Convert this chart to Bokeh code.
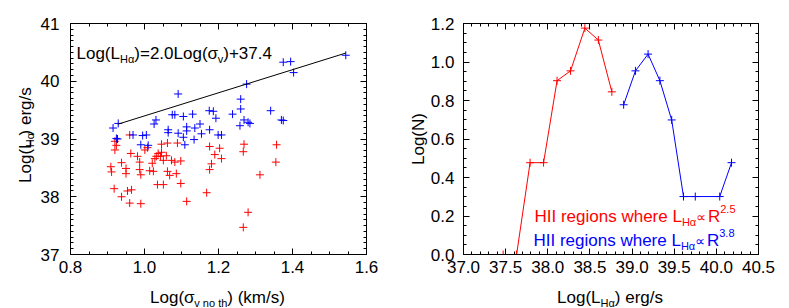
import math
import numpy as np
from bokeh.plotting import figure
from bokeh.layouts import row, column
from bokeh.models import (Range1d, FixedTicker, LinearAxis, Label,
                          NumeralTickFormatter, CustomJSTickFormatter)
from bokeh.core.properties import value
from bokeh.embed import file_html
from bokeh.resources import INLINE

FONT = "Liberation Sans"
SYM_FONT = "DejaVu Sans"
RED = "#ff0000"
BLUE = "#0000ff"

# ---------------- left panel data ----------------
blue_sigma = [1.375, 1.395, 1.403, 1.544, 1.276, 1.091, 1.260, 1.260, 1.341, 1.075,
              1.082, 1.105, 1.130, 1.175, 1.186, 1.193, 1.238, 1.269, 1.280, 1.258,
              1.370, 1.375, 1.031, 1.026, 0.929, 0.915, 1.150, 1.114, 1.136, 1.176,
              1.064, 1.114, 1.285, 0.924, 0.927, 0.969, 0.995, 1.005, 1.064, 1.091,
              1.105, 1.154, 1.199, 1.208, 0.990, 1.010, 1.109, 1.134]
blue_lha = [40.33, 40.34, 40.15, 40.45, 39.95, 39.78, 39.69, 39.52, 39.49, 39.42,
            39.42, 39.39, 39.43, 39.49, 39.48, 39.36, 39.43, 39.33, 39.29, 39.23,
            39.33, 39.32, 39.33, 39.26, 39.27, 39.19, 39.26, 39.21, 39.19, 39.16,
            39.16, 39.14, 39.27, 39.01, 39.00, 39.07, 39.06, 39.07, 39.11, 39.10,
            39.03, 39.09, 39.07, 39.07, 38.90, 38.89, 38.90, 38.99]

red_sigma = [0.920, 0.960, 0.924, 0.920, 0.963, 0.981, 0.987, 1.001, 1.008, 1.046,
             1.062, 1.089, 1.037, 1.046, 1.032, 1.043, 1.059, 1.028, 1.021, 1.051,
             1.073, 1.082, 1.098, 0.909, 0.911, 0.938, 0.950, 0.950, 0.987, 0.990,
             1.014, 1.024, 1.062, 1.068, 1.086, 1.176, 1.203, 1.190, 1.208, 1.181,
             1.176, 1.269, 1.267, 1.357, 1.355, 1.312, 1.035, 1.051, 1.098, 0.918,
             0.954, 0.965, 0.938, 0.960, 0.990, 1.114, 1.168, 1.280, 1.267]
red_lha = [38.96, 39.07, 38.89, 38.81, 38.75, 38.70, 38.60, 38.81, 38.85, 38.91,
           38.93, 38.93, 38.75, 38.77, 38.70, 38.70, 38.71, 38.66, 38.58, 38.63,
           38.63, 38.60, 38.62, 38.52, 38.43, 38.59, 38.49, 38.40, 38.47, 38.38,
           38.45, 38.44, 38.44, 38.37, 38.40, 38.87, 38.84, 38.73, 38.66, 38.57,
           38.47, 38.91, 38.78, 38.90, 38.60, 38.38, 38.21, 38.21, 38.23, 38.14,
           38.10, 38.12, 38.00, 37.89, 37.88, 37.92, 38.07, 37.73, 37.47]

fit_slope = 2.0
fit_intercept = 37.4
fit_sigma = [0.928, 1.544]
fit_lha = [fit_slope * s + fit_intercept for s in fit_sigma]

left_xticks = [0.8, 1.0, 1.2, 1.4, 1.6]
left_yticks = [37, 38, 39, 40, 41]

# ---------------- right panel data ----------------
red_bin_lha = [37.47, 37.63, 37.79, 37.95, 38.11, 38.27, 38.44, 38.60, 38.76]
red_logn = [0.0, 0.0, 0.477, 0.477, 0.903, 0.954, 1.176, 1.114, 0.845]
blue_bin_lha = [38.90, 39.04, 39.19, 39.33, 39.47, 39.61, 39.75, 40.04, 40.18]
blue_logn = [0.778, 0.954, 1.041, 0.903, 0.699, 0.301, 0.301, 0.301, 0.477]

right_xticks = [37.0, 37.5, 38.0, 38.5, 39.0, 39.5, 40.0, 40.5]
right_yticks = [0.0, 0.2, 0.4, 0.6, 0.8, 1.0, 1.2]

# ---------------- helpers ----------------
CW = {' ': 0.278, '(': 0.333, ')': 0.333, '+': 0.584, '.': 0.278, '/': 0.278,
      '=': 0.584, 'H': 0.722, 'I': 0.278, 'L': 0.556, 'N': 0.722, 'R': 0.722,
      'e': 0.556, 'g': 0.556, 'h': 0.556, 'i': 0.222, 'k': 0.5, 'm': 0.833,
      'n': 0.556, 'o': 0.556, 'r': 0.333, 's': 0.5, 't': 0.278, 'v': 0.5,
      'w': 0.722, 'α': 0.58, 'σ': 0.6, '∝': 0.84}


def tw(s, size):
    return sum(CW.get(c, 0.556) for c in s) * size


def pieces(segs, x, y, angle, align):
    segs = [tuple(sg) + ((FONT,) if len(sg) == 3 else ()) for sg in segs]
    total = sum(tw(sg[0], sg[1]) for sg in segs)
    s = {"left": 0.0, "center": -total / 2, "right": -total}[align]
    ca, sa = math.cos(angle), math.sin(angle)
    out = []
    for t, sz, sh, fnt in segs:
        out.append((t, sz, fnt, x + s * ca - sh * sa, y + s * sa + sh * ca))
        s += tw(t, sz)
    return out


def rich_label(fig, segs, x, y, angle=0.0, align="left", color="black"):
    for t, sz, fnt, px, py in pieces(segs, x, y, angle, align):
        fig.add_layout(Label(x=px, y=py, x_units="screen", y_units="screen", text=t,
                             angle=angle, text_font=fnt, text_font_size=f"{sz}px",
                             text_color=color, text_align="left",
                             text_baseline="alphabetic"))


def rich_glyph(fig, segs, x, y, angle=0.0, align="left", color="black"):
    for t, sz, fnt, px, py in pieces(segs, x, y, angle, align):
        fig.text(x=[px], y=[py], text=[t], angle=angle, text_font=value(fnt),
                 text_font_size=value(f"{sz}px"), text_color=color,
                 text_align="left", text_baseline="alphabetic")


def text_fig(w, h):
    f = figure(output_backend="svg", toolbar_location=None, width=w, height=h,
               x_range=Range1d(0, w), y_range=Range1d(0, h),
               x_axis_location=None, y_axis_location=None,
               min_border_left=0, min_border_right=0, min_border_top=0,
               min_border_bottom=0, background_fill_color="white",
               border_fill_color="white")
    f.outline_line_color = None
    f.xgrid.visible = False
    f.ygrid.visible = False
    return f


def setup_axes(p, xt, xminor, yt, yminor, xfmt, yfmt, ystand):
    p.add_layout(LinearAxis(), "above")
    p.add_layout(LinearAxis(), "right")
    for ax in p.axis:
        ax.axis_line_color = "black"
        ax.major_tick_line_color = "black"
        ax.minor_tick_line_color = "black"
        ax.major_tick_in = 6
        ax.major_tick_out = 0
        ax.minor_tick_in = 3
        ax.minor_tick_out = 0
        ax.major_label_text_font = FONT
        ax.major_label_text_font_size = "17px"
        ax.major_label_text_color = "black"
    for ax in p.xaxis:
        ax.ticker = FixedTicker(ticks=xt, minor_ticks=xminor)
    for ax in p.yaxis:
        ax.ticker = FixedTicker(ticks=yt, minor_ticks=yminor)
    p.below[0].formatter = NumeralTickFormatter(format=xfmt)
    p.below[0].major_label_standoff = 6
    p.left[0].formatter = NumeralTickFormatter(format=yfmt)
    p.left[0].major_label_standoff = ystand
    for ax in (p.above[0], p.right[0]):
        ax.formatter = CustomJSTickFormatter(code="return ''")
        ax.major_label_standoff = 0
        ax.major_label_text_font_size = "1px"
    p.xgrid.visible = False
    p.ygrid.visible = False
    p.outline_line_color = "black"
    p.outline_line_alpha = 1.0


TOP, FRAME_H, BOTTOM = 23, 231, 27
ROW_H = TOP + FRAME_H + BOTTOM
YLAB_W = 37
P1_LEFT = 69 - YLAB_W

# ---------------- left figure ----------------
p1 = figure(output_backend="svg", toolbar_location=None,
            frame_width=296, frame_height=FRAME_H,
            min_border_left=P1_LEFT, min_border_right=28, min_border_top=TOP,
            min_border_bottom=BOTTOM,
            x_range=Range1d(0.8, 1.6), y_range=Range1d(37, 41),
            background_fill_color="white", border_fill_color="white")
setup_axes(p1, left_xticks, [round(v, 3) for v in np.arange(0.8, 1.6001, 0.05)],
           left_yticks, [round(v, 2) for v in np.arange(37, 41.001, 0.1)],
           "0.0", "0", 11)

p1.scatter(red_sigma, red_lha, marker="cross", size=8, line_color=RED, line_width=1)
p1.scatter(blue_sigma, blue_lha, marker="cross", size=8, line_color=BLUE, line_width=1)
p1.line(fit_sigma, fit_lha, line_color="black", line_width=1)

rich_label(p1, [("Log(L", 17, 0), ("Hα", 11, -5), (")=2.0Log(σ", 17, 0), ("v", 11, -5),
                (")+37.4", 17, 0)], 6, 201)

# ---------------- right figure ----------------
p2 = figure(output_backend="svg", toolbar_location=None,
            frame_width=295, frame_height=FRAME_H,
            min_border_left=69, min_border_right=28, min_border_top=TOP,
            min_border_bottom=BOTTOM,
            x_range=Range1d(37.0, 40.5), y_range=Range1d(0.0, 1.2),
            background_fill_color="white", border_fill_color="white")
setup_axes(p2, right_xticks, [round(v, 2) for v in np.arange(37.0, 40.5001, 0.1)],
           right_yticks, [round(v, 3) for v in np.arange(0.0, 1.2001, 0.05)],
           "0.0", "0.0", 9)
p2.left[0].axis_label = "Log(N)"
p2.left[0].axis_label_text_font = FONT
p2.left[0].axis_label_text_font_size = "17px"
p2.left[0].axis_label_text_font_style = "normal"
p2.left[0].axis_label_text_color = "black"
p2.left[0].axis_label_standoff = 0

p2.line(red_bin_lha, red_logn, line_color=RED, line_width=1)
p2.scatter(red_bin_lha, red_logn, marker="cross", size=8, line_color=RED, line_width=1)
p2.line(blue_bin_lha, blue_logn, line_color=BLUE, line_width=1)
p2.scatter(blue_bin_lha, blue_logn, marker="cross", size=8, line_color=BLUE, line_width=1)

rich_label(p2, [("HII regions where L", 17, 0), ("Hα", 11, -5), ("∝", 14, 0, SYM_FONT),
                ("R", 17, 0), ("2.5", 11, 8)], 71, 38, color=RED)
rich_label(p2, [("HII regions where L", 17, 0), ("Hα", 11, -5), ("∝", 14, 0, SYM_FONT),
                ("R", 17, 0), ("3.8", 11, 8)], 70, 14, color=BLUE)

# ---------------- axis-title strips ----------------
ylab = text_fig(YLAB_W, ROW_H)
rich_glyph(ylab, [("Log(L", 17, 0), ("Hα", 11, -4), (") erg/s", 17, 0)],
           25, ROW_H - 141, angle=math.pi / 2, align="center")

XL_H = 26
xlab = text_fig(YLAB_W + P1_LEFT + 296 + 28 + 392, XL_H)
base_y = XL_H - (297 - ROW_H)
rich_glyph(xlab, [("Log(σ", 17, 0), ("v no th", 11, -5), (") (km/s)", 17, 0)],
           217, base_y, align="center")
rich_glyph(xlab, [("Log(L", 17, 0), ("Hα", 11, -5), (") erg/s", 17, 0)],
           609.5, base_y, align="center")

layout = column(row(ylab, p1, p2), xlab)
open("out.html", "w").write(file_html(layout, INLINE))
